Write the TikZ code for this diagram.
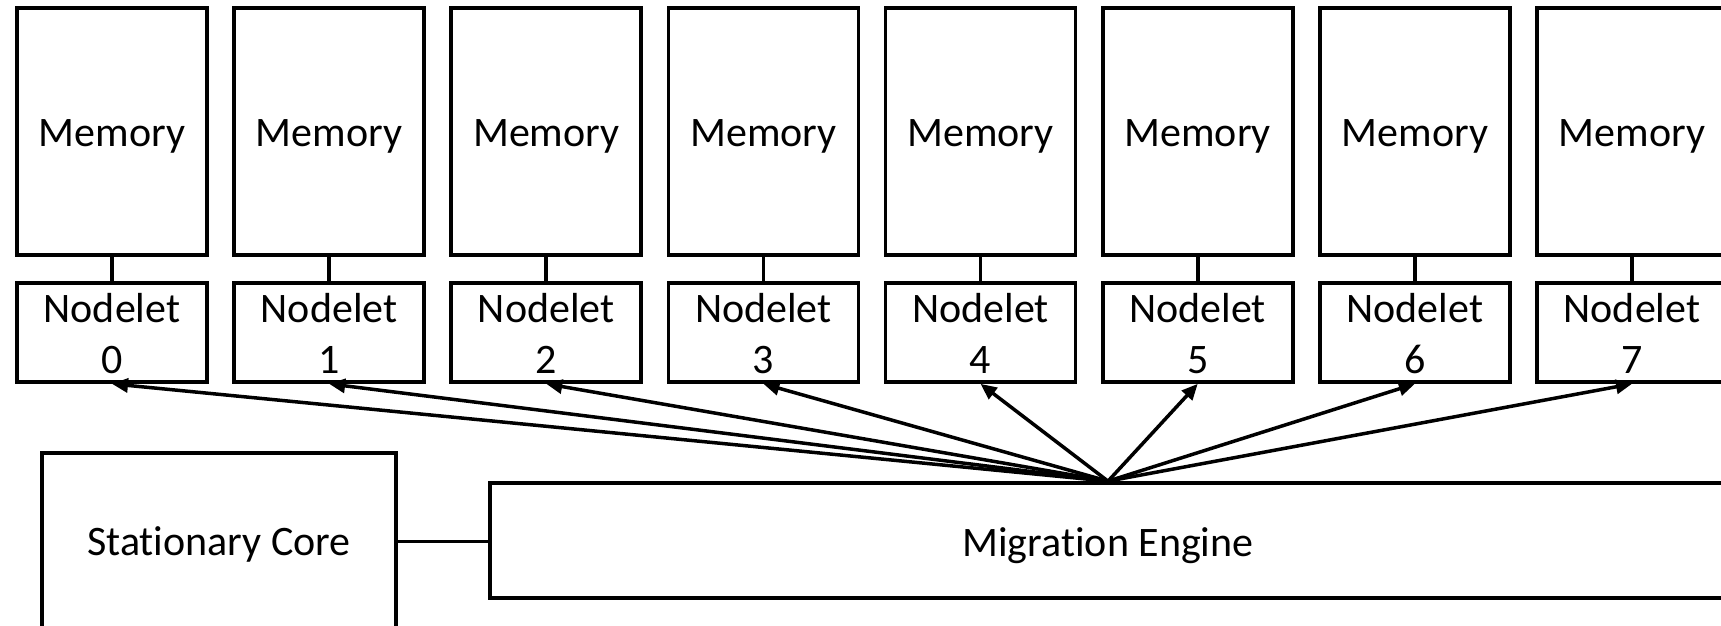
\documentclass[tikz,border=0pt]{standalone}
\usepackage{fontspec}
\setmainfont[Ligatures=NoCommon]{Carlito}
\usetikzlibrary{arrows.meta}
\begin{document}
\begin{tikzpicture}[x=1pt,y=-1pt,
  box/.style={draw=black, line width=3.7pt, rectangle, inner sep=0pt, font=\fontsize{42}{51}\selectfont},
  membox/.style={box, minimum width=190pt, minimum height=247pt, text height=30pt, text depth=0pt},
  nodebox/.style={box, minimum width=190pt, minimum height=99pt, text height=27pt, text depth=48pt},
  link/.style={line width=3.7pt},
  mig/.style={line width=3.5pt, -{Triangle[length=16pt,width=14pt]}}]
\path[use as bounding box] (0,0) rectangle (1721,625);
\clip (0,0) rectangle (1721,625);
\foreach \i in {0,...,7}{
  \node[membox] (m\i) at ({112+217.14*\i},131.5) {Memory};
  \node[nodebox] (n\i) at ({112+217.14*\i},332.5) {\begin{tabular}[t]{@{}c@{}}Nodelet\\\i\end{tabular}};
  \draw[link] (m\i.south) -- (n\i.north);
}
\node[box, minimum width=354pt, minimum height=177pt, text height=27pt, text depth=0pt] (sc) at (219,541.5) {Stationary Core};
\node[box, minimum width=1236pt, minimum height=115pt, text height=31pt, text depth=0pt] (me) at (1108,540.5) {Migration Engine};
\draw[link] (sc.east) -- (sc.east -| me.west);
\foreach \i in {0,...,7}{
  \draw[mig] (me.north) -- (n\i.south);
}
\end{tikzpicture}
\end{document}
